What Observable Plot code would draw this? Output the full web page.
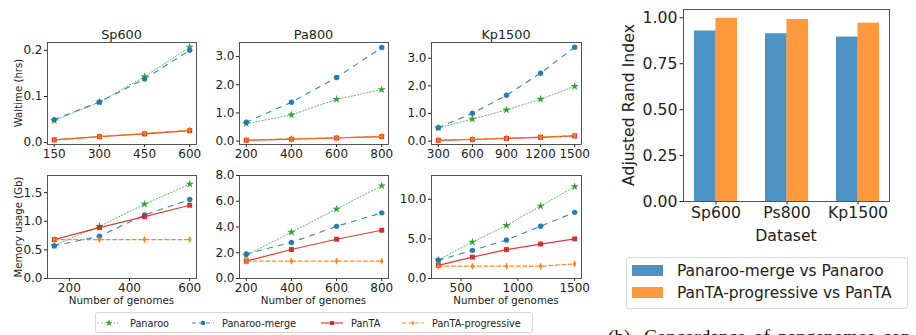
<!DOCTYPE html>
<html><head><meta charset="utf-8">
<script src="https://cdn.jsdelivr.net/npm/d3@7"></script>
<script src="https://cdn.jsdelivr.net/npm/@observablehq/plot@0.6"></script>
<style>
html,body{margin:0;padding:0;background:#fff;}
body{width:916px;height:335px;overflow:hidden;position:relative;font-family:"DejaVu Sans",sans-serif;color:#222;}
.abs{position:absolute;white-space:nowrap;}
.c{transform:translate(-50%,-50%);}
.rot{transform:translate(-50%,-50%) rotate(-90deg);}
</style></head><body><div id="root"></div>
<script>
// ---------------- data ----------------
const methods = ["Panaroo", "Panaroo-merge", "PanTA", "PanTA-progressive"];
const spGenomes = [150, 300, 450, 600];
const paGenomes = [200, 400, 600, 800];
const kpGenomes = [300, 600, 900, 1200, 1500];

// Waltime (hrs)
const spTimePanaroo = [0.048, 0.088, 0.143, 0.207];
const spTimeMerge = [0.050, 0.088, 0.138, 0.200];
const spTimePanTA = [0.006, 0.013, 0.019, 0.026];
const spTimeProgressive = [0.006, 0.013, 0.020, 0.027];

const paTimePanaroo = [0.62, 0.93, 1.48, 1.83];
const paTimeMerge = [0.67, 1.38, 2.26, 3.32];
const paTimePanTA = [0.03, 0.07, 0.11, 0.16];
const paTimeProgressive = [0.04, 0.08, 0.12, 0.17];

const kpTimePanaroo = [0.48, 0.80, 1.13, 1.52, 1.98];
const kpTimeMerge = [0.49, 1.01, 1.66, 2.46, 3.40];
const kpTimePanTA = [0.03, 0.06, 0.10, 0.14, 0.19];
const kpTimeProgressive = [0.04, 0.07, 0.11, 0.15, 0.20];

// Memory usage (Gb)
const spMemPanaroo = [0.58, 0.91, 1.30, 1.65];
const spMemMerge = [0.57, 0.74, 1.11, 1.38];
const spMemPanTA = [0.68, 0.89, 1.08, 1.28];
const spMemProgressive = [0.68, 0.68, 0.68, 0.68];

const paMemPanaroo = [1.80, 3.60, 5.40, 7.20];
const paMemMerge = [1.90, 2.80, 4.05, 5.10];
const paMemPanTA = [1.35, 2.25, 3.05, 3.75];
const paMemProgressive = [1.35, 1.35, 1.35, 1.35];

const kpMemPanaroo = [2.35, 4.6, 6.7, 9.15, 11.6];
const kpMemMerge = [2.3, 3.55, 4.85, 6.6, 8.35];
const kpMemPanTA = [1.65, 2.7, 3.65, 4.35, 5.0];
const kpMemProgressive = [1.55, 1.55, 1.55, 1.55, 1.85];

// Adjusted Rand Index
const barDatasets = ["Sp600", "Ps800", "Kp1500"];
const barSeries = ["Panaroo-merge vs Panaroo", "PanTA-progressive vs PanTA"];
const ariMerge = [0.928, 0.913, 0.895];
const ariProgressive = [0.997, 0.991, 0.971];

// ---------------- helpers ----------------
const root = document.getElementById("root");
function addDiv(text, x, y, cls, style) {
  const d = document.createElement("div");
  d.className = "abs " + cls;
  d.textContent = text;
  d.style.left = x + "px"; d.style.top = y + "px";
  Object.assign(d.style, style || {});
  root.appendChild(d);
  return d;
}
function tidy(genomes, series) {
  return methods.flatMap((m, i) => genomes.map((n, j) => ({method: m, n, v: series[i][j]})));
}
const thinDiamond = {
  draw(ctx, size) {
    const r = Math.sqrt(size / Math.PI);
    ctx.moveTo(0, -r * 1.25); ctx.lineTo(r * 0.55, 0); ctx.lineTo(0, r * 1.25); ctx.lineTo(-r * 0.55, 0); ctx.closePath();
  }
};
const styles = {
  "Panaroo": {stroke: "#2ca02c", dash: "1.2,2", sw: 1, op: 0.75, symbol: "star", r: 2.6},
  "Panaroo-merge": {stroke: "#1f77b4", dash: "5,6", sw: 1.1, op: 0.9, symbol: "circle", r: 2.7},
  "PanTA": {stroke: "#d62728", dash: null, sw: 1.2, op: 0.9, symbol: "square", r: 2.8},
  "PanTA-progressive": {stroke: "#ff7f0e", dash: "4,2.5", sw: 1.2, op: 0.9, symbol: thinDiamond, r: 3}
};

function panel(o) {
  const mL = 40, mR = 6, mT = 4, mB = 22;
  const marks = [Plot.frame({stroke: "#444", strokeWidth: 0.9})];
  for (const m of methods) {
    const s = styles[m];
    const d = o.data.filter(r => r.method === m);
    marks.push(Plot.line(d, {x: "n", y: "v", stroke: s.stroke, strokeWidth: s.sw, strokeDasharray: s.dash, strokeOpacity: s.op}));
    marks.push(Plot.dot(d, {x: "n", y: "v", fill: s.stroke, r: s.r, symbol: s.symbol, fillOpacity: 0.95}));
  }
  const p = Plot.plot({
    width: o.w + mL + mR, height: o.h + mT + mB,
    marginLeft: mL, marginRight: mR, marginTop: mT, marginBottom: mB,
    style: {fontFamily: "DejaVu Sans", fontSize: "12px", color: "#222", background: "transparent", overflow: "visible"},
    x: {domain: o.xDomain, ticks: o.xTicks, tickFormat: "d", tickSize: 3, tickPadding: 1.5, label: null},
    y: {domain: o.yDomain, ticks: o.yTicks, tickFormat: ".1f", tickSize: 3, tickPadding: 2, label: null},
    marks
  });
  p.style.position = "absolute";
  p.style.left = (o.left - mL) + "px";
  p.style.top = (o.top - mT) + "px";
  root.appendChild(p);
  const cx = o.left + o.w / 2;
  if (o.title) addDiv(o.title, cx, 34, "c", {fontSize: "12.8px"});
  if (o.xlabel) addDiv(o.xlabel, cx, 300, "c", {fontSize: "10.3px"});
  if (o.ylabel) addDiv(o.ylabel, 18, o.top + o.h / 2, "rot", {fontSize: "10.2px"});
}

const cols = [47, 239, 431];
const pw = 149, topY = 42, topH = 102, botY = 175, botH = 103;

panel({left: cols[0], top: topY, w: pw, h: topH, xDomain: [127.5, 622.5], xTicks: [150, 300, 450, 600],
  yDomain: [-0.004, 0.217], yTicks: [0, 0.1, 0.2], title: "Sp600", ylabel: "Waltime (hrs)",
  data: tidy(spGenomes, [spTimePanaroo, spTimeMerge, spTimePanTA, spTimeProgressive])});
panel({left: cols[1], top: topY, w: pw, h: topH, xDomain: [170, 830], xTicks: [200, 400, 600, 800],
  yDomain: [-0.12, 3.5], yTicks: [0, 1, 2, 3], title: "Pa800",
  data: tidy(paGenomes, [paTimePanaroo, paTimeMerge, paTimePanTA, paTimeProgressive])});
panel({left: cols[2], top: topY, w: pw + 1, h: topH, xDomain: [240, 1560], xTicks: [300, 600, 900, 1200, 1500],
  yDomain: [-0.12, 3.57], yTicks: [0, 1, 2, 3], title: "Kp1500",
  data: tidy(kpGenomes, [kpTimePanaroo, kpTimeMerge, kpTimePanTA, kpTimeProgressive])});

panel({left: cols[0], top: botY, w: pw, h: botH, xDomain: [127.5, 622.5], xTicks: [200, 400, 600],
  yDomain: [0, 1.8], yTicks: [0, 0.5, 1, 1.5], xlabel: "Number of genomes", ylabel: "Memory usage (Gb)",
  data: tidy(spGenomes, [spMemPanaroo, spMemMerge, spMemPanTA, spMemProgressive])});
panel({left: cols[1], top: botY, w: pw, h: botH, xDomain: [170, 830], xTicks: [200, 400, 600, 800],
  yDomain: [0, 8], yTicks: [0, 2, 4, 6, 8], xlabel: "Number of genomes",
  data: tidy(paGenomes, [paMemPanaroo, paMemMerge, paMemPanTA, paMemProgressive])});
panel({left: cols[2], top: botY, w: pw + 1, h: botH, xDomain: [240, 1560], xTicks: [500, 1000, 1500],
  yDomain: [0, 13], yTicks: [0, 5, 10], xlabel: "Number of genomes",
  data: tidy(kpGenomes, [kpMemPanaroo, kpMemMerge, kpMemPanTA, kpMemProgressive])});

// ---------------- line legend ----------------
const leg = document.createElement("div");
leg.className = "abs";
Object.assign(leg.style, {left: "95px", top: "312px", width: "436px", height: "19px", border: "1px solid #d8d8d8", borderRadius: "3px", background: "#fff"});
root.appendChild(leg);
const legX = [[98, 130], [192, 222], [321, 351], [402, 432]];
methods.forEach((m, i) => {
  const s = styles[m];
  const ns = "http://www.w3.org/2000/svg";
  const svg = document.createElementNS(ns, "svg");
  svg.setAttribute("width", 24); svg.setAttribute("height", 10);
  svg.style.position = "absolute"; svg.style.left = legX[i][0] + "px"; svg.style.top = "318px";
  const ln = document.createElementNS(ns, "line");
  ln.setAttribute("x1", 0); ln.setAttribute("x2", 22); ln.setAttribute("y1", 5); ln.setAttribute("y2", 5);
  ln.setAttribute("stroke", s.stroke); ln.setAttribute("stroke-width", s.sw);
  ln.setAttribute("stroke-opacity", s.op);
  if (s.dash) ln.setAttribute("stroke-dasharray", s.dash === "5,6" ? "4,3" : s.dash);
  svg.appendChild(ln);
  const sym = document.createElementNS(ns, "path");
  const symType = typeof s.symbol === "string" ? {star: d3.symbolStar, circle: d3.symbolCircle, square: d3.symbolSquare}[s.symbol] : s.symbol;
  sym.setAttribute("d", d3.symbol(symType, 2.2 * 2.2 * Math.PI)());
  sym.setAttribute("transform", "translate(11,5)");
  sym.setAttribute("fill", s.stroke);
  svg.appendChild(sym);
  root.appendChild(svg);
  addDiv(m, legX[i][1], 323, "", {fontSize: "9.7px", transform: "translateY(-50%)"});
});

// ---------------- bar chart ----------------
const barRows = barDatasets.map((d, i) => ({dataset: d, merge: ariMerge[i], progressive: ariProgressive[i]}));
const bL = 683, bT = 9, bW = 206, bH = 192;
const pi = 0.4, po = 0.14;
const step = bW / (barDatasets.length - pi + 2 * po);
const half = step * (1 - pi) / 2;
const bmL = 60, bmR = 6, bmT = 4, bmB = 22;
const bar = Plot.plot({
  width: bW + bmL + bmR, height: bH + bmT + bmB,
  marginLeft: bmL, marginRight: bmR, marginTop: bmT, marginBottom: bmB,
  style: {fontFamily: "DejaVu Sans", fontSize: "15.7px", color: "#222", background: "transparent", overflow: "visible"},
  x: {type: "band", domain: barDatasets, paddingInner: pi, paddingOuter: po, tickSize: 3.5, tickPadding: 2, label: null},
  y: {domain: [0, 1.045], ticks: [0, 0.25, 0.5, 0.75, 1], tickFormat: ".2f", tickSize: 3.5, tickPadding: 2.5, label: null},
  marks: [
    Plot.barY(barRows, {x: "dataset", y: "merge", fill: "#1f77b4", fillOpacity: 0.8, insetRight: half}),
    Plot.barY(barRows, {x: "dataset", y: "progressive", fill: "#ff7f0e", fillOpacity: 0.8, insetLeft: half}),
    Plot.frame({stroke: "#444", strokeWidth: 0.9})
  ]
});
bar.style.position = "absolute";
bar.style.left = (bL - bmL) + "px";
bar.style.top = (bT - bmT) + "px";
root.appendChild(bar);
addDiv("Adjusted Rand Index", 628, bT + bH / 2, "rot", {fontSize: "15.7px"});
addDiv("Dataset", bL + bW / 2, 235, "c", {fontSize: "15.7px"});

// bar legend
const bleg = document.createElement("div");
bleg.className = "abs";
Object.assign(bleg.style, {left: "626px", top: "257px", width: "280px", height: "50px", border: "1px solid #d8d8d8", borderRadius: "3px", background: "#fff"});
root.appendChild(bleg);
const barColors = ["#1f77b4", "#ff7f0e"];
barSeries.forEach((s, i) => {
  const cy = 270.5 + i * 22;
  const sw = document.createElement("div");
  sw.className = "abs";
  Object.assign(sw.style, {left: "632px", top: (cy - 5.5) + "px", width: "31px", height: "11px", background: barColors[i], opacity: 0.8});
  root.appendChild(sw);
  addDiv(s, 677, cy, "", {fontSize: "15.4px", transform: "translateY(-50%)"});
});

// caption: only its top edge shows at the bottom of the image, as in the source
const capStyle = {fontFamily: "'Liberation Serif', serif", fontSize: "19.3px", lineHeight: "19.3px", color: "#111", wordSpacing: "3.3px"};
addDiv("(b)", 608, 327.3, "", capStyle);
addDiv("Concordance of pangenomes con-", 644, 327.3, "", capStyle);
</script></body></html>
